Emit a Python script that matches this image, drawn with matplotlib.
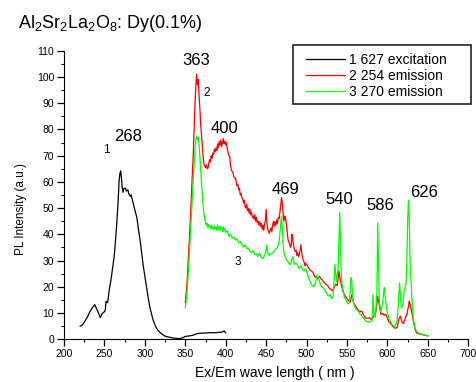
import matplotlib
matplotlib.use('Agg')
import matplotlib.pyplot as plt
from matplotlib.ticker import MultipleLocator
from matplotlib.patches import Rectangle

plt.rcParams['font.family'] = ['Liberation Sans', 'DejaVu Sans']
plt.rcParams['mathtext.fontset'] = 'custom'
plt.rcParams['mathtext.rm'] = 'Liberation Sans'
plt.rcParams['mathtext.it'] = 'Liberation Sans:italic'

# curve 1: 627 nm excitation
ex_x = [220, 223, 226, 229, 232, 235, 238, 240, 242, 245, 247, 249, 251, 252, 254, 256, 258, 260,
        262, 263, 265, 267, 268, 269, 270, 271, 272, 273, 274, 276, 277, 279, 280, 282, 283, 285,
        287, 290, 292, 294, 296, 298, 300, 302, 304, 306, 308, 310, 313, 316, 319, 322, 325, 330,
        335, 340, 344, 347, 350, 355, 360, 365, 370, 375, 380, 385, 390, 395, 398, 400]
ex_y = [5.0, 5.5, 7.0, 8.5, 10.5, 12.0, 13.2, 11.8, 10.5, 8.2, 9.8, 10.2, 11.0, 14.5, 14.0, 19.0,
        22.5, 27.0, 31.5, 35.0, 43.0, 53.0, 60.0, 63.0, 64.2, 61.5, 58.0, 56.0, 57.5, 57.6, 56.5,
        57.0, 55.5, 54.5, 55.0, 52.5, 50.0, 46.5, 42.0, 38.0, 33.0, 28.0, 24.0, 20.0, 16.0, 12.5,
        10.0, 7.5, 5.0, 3.5, 2.5, 1.8, 1.2, 0.8, 0.5, 0.3, 0.3, 0.6, 1.1, 1.3, 1.6, 2.2, 2.3, 2.4,
        2.5, 2.5, 2.6, 2.7, 3.2, 2.5]

# curve 2: 254 nm emission
em254_x = [350, 352, 354, 356, 358, 360, 362, 363, 364, 365, 366, 367, 368, 369, 370, 371, 372, 373,
           374, 375, 376, 377, 378, 379, 380, 381, 382, 383, 384, 385, 386, 387, 388, 389, 390, 391,
           392, 393, 394, 395, 396, 397, 398, 399, 400, 401, 402, 403, 404, 405, 406, 407, 408, 409,
           410, 411, 412, 413, 414, 415, 416, 417, 418, 419, 420, 421, 422, 423, 424, 425, 426, 427,
           428, 429, 430, 431, 432, 433, 434, 435, 436, 437, 438, 439, 440, 441, 442, 443, 444, 445,
           446, 447, 448, 449, 450, 451, 452, 453, 454, 455, 456, 457, 458, 459, 460, 461, 462, 463,
           464, 465, 466, 467, 468, 469, 470, 471, 472, 473, 474, 475, 476, 477, 478, 479, 480, 481,
           482, 483, 484, 485, 486, 487, 488, 489, 490, 491, 492, 493, 494, 495, 496, 497, 498, 499,
           500, 502, 504, 506, 508, 510, 512, 514, 516, 518, 520, 522, 524, 526, 528, 530, 532, 534,
           536, 538, 540, 542, 544, 546, 548, 550, 552, 554, 556, 558, 560, 562, 564, 566, 568, 570,
           572, 574, 576, 578, 580, 582, 584, 586, 588, 590, 592, 594, 596, 598, 600, 602, 604, 606,
           608, 610, 612, 614, 616, 618, 620, 622, 624, 626, 627, 628, 630, 632, 634, 636, 638, 640,
           643, 646, 650]
em254_y = [14, 21, 32, 44, 58, 72, 90, 96, 101, 97, 99, 93, 88, 82, 78, 74, 70, 67,
           66, 65.5, 66.5, 65, 65.2, 67, 68.5, 67.5, 70, 69, 71, 70.5, 72.5, 71.5, 73, 72, 74.5, 73,
           75.5, 74, 76, 73.5, 75, 76.5, 74.5, 75.5, 74, 75, 72.5, 71, 70, 69.5, 66, 64.5, 64, 63.5,
           62, 61.5, 61.5, 60, 58.5, 59, 57, 57.5, 55, 55.5, 54, 53.8, 52, 53, 50.5, 50, 51.5, 49,
           50, 48, 49.5, 47.5, 48.2, 46.5, 47, 45.8, 47.5, 45, 46.5, 44.5, 45, 43.5, 44.8, 43, 44.2, 42,
           43.5, 41.5, 44, 45, 49.5, 44, 42, 41, 40.5, 41.5, 42.5, 41, 43.5, 45, 43, 44.8, 43.5, 45.5,
           44, 46.5, 46, 48.5, 51, 54, 52, 48, 45, 47, 46, 44, 41, 38, 37, 36.5, 35, 36,
           40, 38, 35.5, 34, 33.5, 34, 32, 33, 31.5, 32.5, 34, 36, 33, 31, 30, 29.5, 28, 29,
           28.5, 27.5, 26.5, 26, 25.5, 24, 23.5, 23, 24, 23, 22.5, 21.5, 21, 20.5, 19.5, 19, 18.5, 19.5,
           21, 20.5, 26, 22, 19.5, 17.5, 16.5, 15.5, 14.8, 14.2, 17, 14, 13, 12, 11, 10.5, 10.8, 9.5,
           8.5, 8, 8, 8.2, 7.5, 8.3, 9, 11, 16.3, 13, 9.5, 9.8, 9.2, 9.5, 8, 6.5, 6, 5.2,
           4.5, 4.2, 4.5, 7.5, 8.8, 6.5, 6, 8, 9.5, 12.5, 14.5, 13.5, 10.5, 7, 4, 2.5, 2.2, 2,
           1.8, 1.6, 1.3]

# curve 3: 270 nm emission
em270_x = [350, 352, 354, 356, 358, 360, 362, 363, 364, 365, 366, 367, 368, 369, 370, 371, 372, 373,
           374, 375, 376, 377, 378, 379, 380, 381, 382, 383, 384, 385, 386, 387, 388, 389, 390, 391,
           392, 393, 394, 395, 396, 397, 398, 399, 400, 402, 404, 406, 408, 410, 412, 414, 416, 418,
           420, 422, 424, 426, 428, 430, 432, 434, 436, 438, 440, 442, 444, 446, 448, 450, 451, 452,
           454, 456, 458, 460, 462, 464, 466, 468, 469, 470, 471, 472, 474, 476, 478, 480, 482, 483,
           485, 487, 489, 491, 493, 495, 497, 499, 501, 503, 505, 507, 509, 511, 513, 515, 517, 519,
           521, 523, 525, 527, 529, 531, 533, 535, 537, 539, 541, 543, 545, 547, 549, 551, 553, 555,
           556, 557, 559, 561, 563, 565, 567, 569, 571, 573, 575, 577, 579, 581, 582, 583, 585, 587,
           588, 589, 590, 592, 594, 596, 598, 600, 602, 604, 606, 608, 610, 612, 614, 615, 617, 619,
           621, 623, 624, 625, 626, 627, 628, 630, 632, 634, 636, 638, 641, 644, 647, 650]
em270_y = [12, 17, 27, 38, 50, 62, 72, 76, 77.5, 76, 77, 74.5, 70, 65, 60, 55, 51, 48,
           46, 44.5, 43.5, 44.2, 42.5, 43.8, 43, 42.2, 43.5, 42, 43, 41.8, 43.2, 42, 42.8, 41.5, 43.5, 42,
           42.8, 41.5, 43, 42.5, 41, 42.8, 41.5, 42.3, 40.8, 41.2, 39.2, 40, 38.5, 39, 37.8, 38.2, 36.8, 37.2,
           36, 35.2, 36, 34.5, 34.8, 33.5, 33, 33.8, 32.2, 32.5, 31.5, 32.8, 31.2, 30.8, 31.8, 34, 36, 33,
           32, 32.5, 33, 33.5, 34.5, 35, 37, 44, 47, 42, 36, 33, 31, 30, 29, 28.5, 30.5, 31.5,
           28.5, 29, 28, 27, 28, 26.5, 26, 27, 25, 23, 21.5, 20.5, 20, 21.5, 24.5, 23, 21, 20,
           19.5, 18.5, 17.5, 16.5, 17, 15.5, 16.5, 28.5, 22, 27, 48.5, 24, 18.5, 16, 15, 13.5, 14, 23.5,
           22, 15, 13, 11.5, 11, 10, 9.5, 8.5, 8, 7, 6.8, 6.5, 6.7, 7, 17, 11, 8.5, 18,
           44.3, 30, 14, 10.5, 14, 19.8, 14, 10, 8, 6.5, 5.5, 5, 5.2, 7, 16, 21.5, 12, 13,
           19, 21, 30, 45, 53, 46, 30, 17, 8, 4.5, 3, 2.5, 2, 1.8, 1.6, 1.4]

legend_labels = ['1 627 excitation', '2 254 emission', '3 270 emission']

fig = plt.figure(figsize=(4.76, 3.82), dpi=100)
ax = fig.add_axes([0.1345, 0.1118, 0.8493, 0.7555])

ax.plot(ex_x, ex_y, color='black', lw=0.9, label=legend_labels[0])
ax.plot(em254_x, em254_y, color='#ff0000', lw=0.9, label=legend_labels[1])
ax.plot(em270_x, em270_y, color='#00ff00', lw=0.9, label=legend_labels[2])

ax.set_xlim(200, 700)
ax.set_ylim(0, 110)
ax.xaxis.set_major_locator(MultipleLocator(50))
ax.xaxis.set_minor_locator(MultipleLocator(25))
ax.yaxis.set_major_locator(MultipleLocator(10))
ax.yaxis.set_minor_locator(MultipleLocator(5))
ax.tick_params(which='major', length=5, width=0.9, labelsize=7.5, direction='out', pad=2)
ax.tick_params(which='minor', length=2.5, width=0.8, direction='out')
ax.spines['top'].set_visible(False)
ax.spines['right'].set_visible(False)
ax.set_xlabel('Ex/Em wave length ( nm )', fontsize=10)
ax.xaxis.set_label_coords(0.522, -0.118)
ax.set_ylabel('PL Intensity (a.u.)', fontsize=8.5)
ax.yaxis.set_label_coords(-0.107, 0.4515)
ax.xaxis.label.set_va('center')
ax.yaxis.label.set_va('center')

# peak annotations
ax.text(278.6, 77.2, '268', fontsize=12, ha='center', va='center')
ax.text(252.8, 72.2, '1', fontsize=8.5, ha='center', va='center')
ax.text(363.3, 106.2, '363', fontsize=12, ha='center', va='center')
ax.text(376.6, 94, '2', fontsize=8.5, ha='center', va='center')
ax.text(398.6, 80.5, '400', fontsize=12, ha='center', va='center')
ax.text(474, 57.2, '469', fontsize=12, ha='center', va='center')
ax.text(540.3, 53.4, '540', fontsize=12, ha='center', va='center')
ax.text(591, 51, '586', fontsize=12, ha='center', va='center')
ax.text(645, 56.1, '626', fontsize=12, ha='center', va='center')
ax.text(415, 29.6, '3', fontsize=8.5, ha='center', va='center')

fig.text(18 / 476, 1 - 28.3 / 382, r'Al$_2$Sr$_2$La$_2$O$_8$: Dy(0.1%)', fontsize=13, va='baseline')

# legend box drawn separately, Origin style
ax.add_patch(Rectangle((293 / 476, 1 - 104 / 382), 178 / 476, 59 / 382,
                       transform=fig.transFigure, clip_on=False, facecolor='white',
                       edgecolor='#222222', lw=1.2, zorder=5))
leg = ax.legend(loc='upper left', bbox_to_anchor=(306 / 476, 1 - 52.5 / 382),
                bbox_transform=fig.transFigure, borderaxespad=0, borderpad=0, frameon=False,
                fontsize=10, handlelength=2.8, handletextpad=0.3, labelspacing=0.16)
leg.set_zorder(6)

fig.savefig('out.png', dpi=100)
